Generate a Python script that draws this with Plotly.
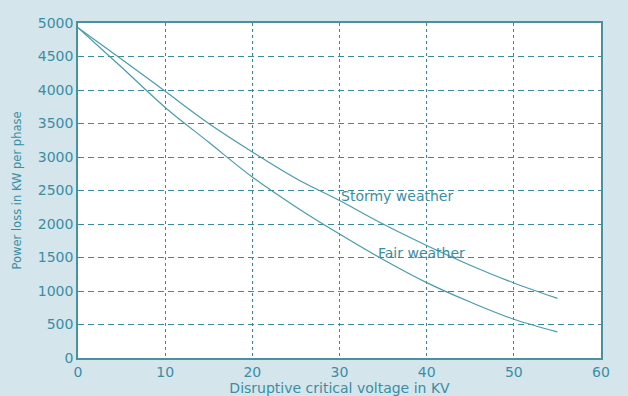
import plotly.graph_objects as go

voltage = [0, 5, 10, 15, 20, 25, 30, 35, 40, 45, 50, 55]
stormy = [4930, 4460, 3980, 3500, 3075, 2680, 2350, 2000, 1680, 1385, 1120, 890]
fair = [4930, 4340, 3740, 3220, 2700, 2255, 1850, 1470, 1125, 835, 578, 390]

x_ticks = [0, 10, 20, 30, 40, 50, 60]
y_ticks = [0, 500, 1000, 1500, 2000, 2500, 3000, 3500, 4000, 4500, 5000]

line_col = "#4a9cab"
txt_col = "#3a8ea4"
grid_col = "#3a8a9c"
font = "DejaVu Sans, Arial, sans-serif"

fig = go.Figure()
fig.add_trace(go.Scatter(x=voltage, y=stormy, mode="lines", line=dict(color=line_col, width=1.2, shape="spline"), name="Stormy weather"))
fig.add_trace(go.Scatter(x=voltage, y=fair, mode="lines", line=dict(color=line_col, width=1.2, shape="spline"), name="Fair weather"))

fig.add_annotation(x=29.9, y=2420, text="Stormy weather", showarrow=False, xanchor="left", yanchor="middle",
                   font=dict(family=font, size=14, color=txt_col))
fig.add_annotation(x=34.2, y=1570, text="Fair weather", showarrow=False, xanchor="left", yanchor="middle",
                   font=dict(family=font, size=14, color=txt_col))

fig.update_layout(
    width=628, height=396,
    margin=dict(l=78, r=27, t=23, b=38, autoexpand=False),
    paper_bgcolor="#d4e5eb",
    plot_bgcolor="#ffffff",
    showlegend=False,
    font=dict(family=font, size=13, color=txt_col),
)
fig.update_xaxes(range=[0, 60], tickvals=x_ticks, showgrid=True, gridcolor=grid_col, griddash="3px,3px", gridwidth=1,
                 showline=True, linecolor="#4a90a0", linewidth=1.5, mirror=True, zeroline=False,
                 title=dict(text="Disruptive critical voltage in KV", standoff=0, font=dict(size=14, color=txt_col)),
                 tickfont=dict(size=14, color=txt_col), ticklen=0)
fig.update_yaxes(range=[0, 5000], tickvals=y_ticks, showgrid=True, gridcolor=grid_col, griddash="6px,4px", gridwidth=1,
                 showline=True, linecolor="#4a90a0", linewidth=1.5, mirror=True, zeroline=False,
                 title=dict(text="Power loss in KW per phase", standoff=14, font=dict(size=11.5, color=txt_col)),
                 tickfont=dict(size=14, color=txt_col), ticklen=0)

fig.write_html("out.html", post_script="document.body.style.margin='0';", config={"displayModeBar": False})
